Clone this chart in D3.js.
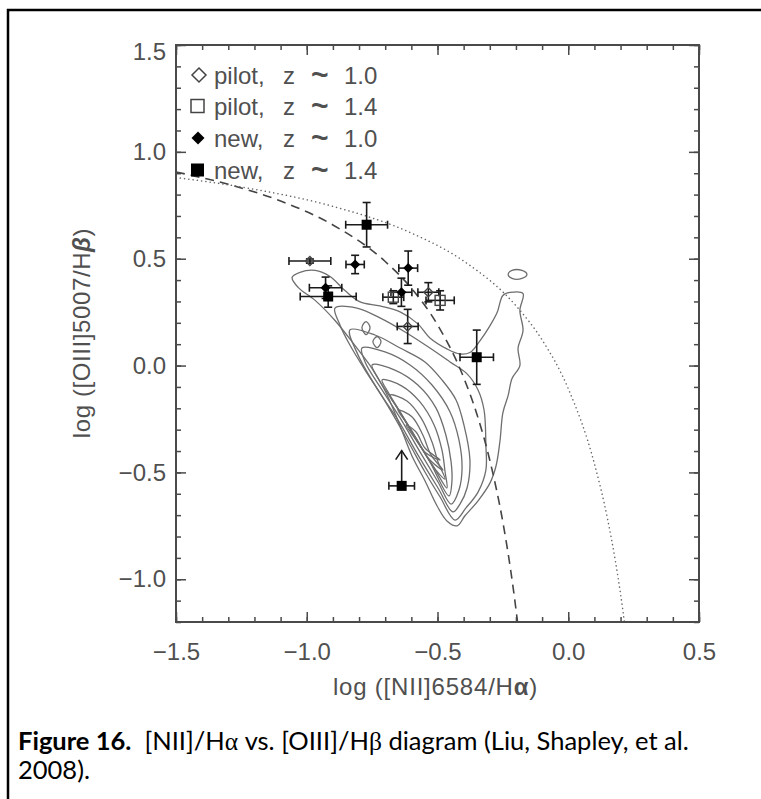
<!DOCTYPE html>
<html>
<head>
<meta charset="utf-8">
<script src="https://cdn.jsdelivr.net/npm/d3@7"></script>
<style>
body { margin: 0; background: #fff; }
svg { display: block; }
</style>
</head>
<body>
<svg id="chart" width="761" height="799"></svg>
<script>
// axis ticks
const xTicks = [-1.5, -1.0, -0.5, 0.0, 0.5];
const yTicks = [-1.0, -0.5, 0.0, 0.5, 1.0, 1.5];

// galaxies: x, y, x error, y error
const pilotZ10 = [
    { x: -0.988, y: 0.489, xe: 0.080, ye: 0.010 },
    { x: -0.535, y: 0.343, xe: 0.040, ye: 0.045 },
    { x: -0.614, y: 0.183, xe: 0.040, ye: 0.080 }
];
const pilotZ14 = [
    { x: -0.669, y: 0.320, xe: 0.040, ye: 0.030 },
    { x: -0.490, y: 0.305, xe: 0.054, ye: 0.045 }
];
const newZ10 = [
    { x: -0.815, y: 0.473, xe: 0.035, ye: 0.043 },
    { x: -0.612, y: 0.456, xe: 0.036, ye: 0.080 },
    { x: -0.638, y: 0.343, xe: 0.040, ye: 0.066 },
    { x: -0.928, y: 0.364, xe: 0.062, ye: 0.050 }
];
const newZ14 = [
    { x: -0.771, y: 0.659, xe: 0.080, ye: 0.104 },
    { x: -0.918, y: 0.323, xe: 0.107, ye: 0.050 },
    { x: -0.350, y: 0.039, xe: 0.064, ye: 0.127 }
];
// lower limit in [OIII]/Hb
const newZ14Limit = [
    { x: -0.637, y: -0.563, xe: 0.049, up: 0.165 }
];

// demarcation curves
const kauffmann03 = [[-1.5, 0.906], [-1.3, 0.848], [-1.1, 0.770], [-0.9, 0.658], [-0.7, 0.487],
    [-0.6, 0.362], [-0.5, 0.191], [-0.4, -0.056], [-0.35, -0.225], [-0.3, -0.443],
    [-0.25, -0.733], [-0.22, -0.959], [-0.2, -1.14], [-0.185, -1.296]];
const kewley01 = [[-1.5, 0.880], [-1.2, 0.825], [-0.9, 0.745], [-0.6, 0.620], [-0.4, 0.489],
    [-0.2, 0.280], [-0.1, 0.120], [0.0, -0.108], [0.1, -0.459], [0.15, -0.716],
    [0.18, -0.913], [0.2, -1.069], [0.21, -1.156], [0.23, -1.35]];

// SDSS density contours, outer to inner
const contour1 = [[-1.056, 0.412], [-1.026, 0.436], [-0.968, 0.445], [-0.911, 0.417], [-0.854, 0.351],
    [-0.796, 0.298], [-0.720, 0.279], [-0.643, 0.251], [-0.575, 0.195], [-0.529, 0.129],
    [-0.464, 0.078], [-0.414, 0.054], [-0.376, 0.061], [-0.337, 0.117], [-0.299, 0.187],
    [-0.272, 0.248], [-0.250, 0.328], [-0.223, 0.342], [-0.173, 0.337], [-0.185, 0.258],
    [-0.173, 0.164], [-0.192, 0.080], [-0.185, 0.000], [-0.215, -0.061], [-0.230, -0.141],
    [-0.250, -0.221], [-0.261, -0.352], [-0.276, -0.469], [-0.299, -0.549], [-0.345, -0.633],
    [-0.395, -0.703], [-0.425, -0.750], [-0.464, -0.727], [-0.502, -0.656], [-0.548, -0.539],
    [-0.598, -0.422], [-0.651, -0.258], [-0.701, -0.117], [-0.750, -0.014], [-0.816, 0.094],
    [-0.892, 0.211], [-0.968, 0.305], [-1.033, 0.366]];
const contour2 = [[-0.892, 0.269], [-0.808, 0.269], [-0.720, 0.223], [-0.624, 0.157], [-0.529, 0.082],
    [-0.452, 0.017], [-0.387, -0.039], [-0.345, -0.114], [-0.322, -0.208], [-0.315, -0.372],
    [-0.315, -0.489], [-0.345, -0.592], [-0.391, -0.666], [-0.433, -0.723], [-0.490, -0.615],
    [-0.548, -0.498], [-0.605, -0.372], [-0.663, -0.245], [-0.720, -0.128], [-0.777, -0.021],
    [-0.835, 0.096], [-0.873, 0.190]];
const contour3 = [[-0.835, 0.167], [-0.739, 0.143], [-0.643, 0.082], [-0.548, 0.017], [-0.483, -0.067],
    [-0.429, -0.161], [-0.399, -0.278], [-0.376, -0.442], [-0.387, -0.573], [-0.414, -0.648],
    [-0.441, -0.685], [-0.498, -0.573], [-0.575, -0.418], [-0.651, -0.255], [-0.728, -0.114],
    [-0.804, 0.050]];
const contour4 = [[-0.789, 0.082], [-0.701, 0.064], [-0.605, 0.003], [-0.521, -0.091], [-0.452, -0.217],
    [-0.418, -0.348], [-0.406, -0.479], [-0.418, -0.582], [-0.448, -0.648], [-0.498, -0.545],
    [-0.567, -0.404], [-0.643, -0.245], [-0.712, -0.114], [-0.777, 0.017]];
const contour5 = [[-0.750, 0.003], [-0.663, -0.021], [-0.575, -0.091], [-0.506, -0.198], [-0.468, -0.325],
    [-0.448, -0.451], [-0.445, -0.545], [-0.456, -0.610], [-0.529, -0.451], [-0.598, -0.311],
    [-0.666, -0.175], [-0.728, -0.058]];
const contour6 = [[-0.712, -0.067], [-0.636, -0.096], [-0.567, -0.170], [-0.513, -0.278], [-0.483, -0.395],
    [-0.471, -0.498], [-0.464, -0.573], [-0.513, -0.479], [-0.575, -0.358], [-0.636, -0.231],
    [-0.689, -0.124]];
const contour7 = [[-0.682, -0.138], [-0.617, -0.166], [-0.563, -0.245], [-0.521, -0.358], [-0.498, -0.451],
    [-0.471, -0.531], [-0.506, -0.489], [-0.552, -0.404], [-0.605, -0.292], [-0.659, -0.189]];
const contour8 = [[-0.651, -0.208], [-0.598, -0.240], [-0.556, -0.325], [-0.525, -0.418], [-0.479, -0.489],
    [-0.529, -0.442], [-0.578, -0.348], [-0.624, -0.259]];
const contour9 = [[-0.620, -0.278], [-0.582, -0.311], [-0.548, -0.386], [-0.490, -0.442], [-0.544, -0.409],
    [-0.590, -0.334]];
const islandA = [[-0.789, 0.178], [-0.773, 0.206], [-0.758, 0.178], [-0.773, 0.145]];
const islandB = [[-0.747, 0.112], [-0.731, 0.136], [-0.716, 0.112], [-0.731, 0.084]];
const islandC = [[-0.230, 0.426], [-0.215, 0.445], [-0.177, 0.445], [-0.158, 0.426], [-0.177, 0.408], [-0.215, 0.408]];

const legendLabels = ["pilot,", "pilot,", "new,", "new,"];
const legendZ = ["1.0", "1.4", "1.0", "1.4"];

const svg = d3.select("#chart");
const pL = 176, pR = 699, pT = 45, pB = 622;
const x = d3.scaleLinear().domain([-1.5, 0.5]).range([pL, pR]);
const y = d3.scaleLinear().domain([-1.2, 1.5]).range([pB, pT]);
const axisColor = "#4a4a4a";
const textColor = "#505050";
const font = "'Liberation Sans', Arial, sans-serif";

// page border
svg.append("rect")
    .attr("x", 8).attr("y", 10)
    .attr("width", 900).attr("height", 900)
    .attr("fill", "none").attr("stroke", "#000").attr("stroke-width", 2.5);

svg.append("clipPath").attr("id", "plotclip")
    .append("rect").attr("x", pL).attr("y", pT)
    .attr("width", pR - pL).attr("height", pB - pT);

const plot = svg.append("g").attr("clip-path", "url(#plotclip)");

// contours
const contourLine = d3.line()
    .x(d => x(d[0])).y(d => y(d[1]))
    .curve(d3.curveCatmullRomClosed.alpha(0.5));
[contour1, contour2, contour3, contour4, contour5, contour6, contour7, contour8, contour9,
    islandA, islandB, islandC]
    .forEach(c => {
        plot.append("path")
            .attr("d", contourLine(c))
            .attr("fill", "none")
            .attr("stroke", "#6e6e6e")
            .attr("stroke-width", 1.3);
    });

// demarcation lines
const demLine = d3.line().x(d => x(d[0])).y(d => y(d[1])).curve(d3.curveMonotoneX);
plot.append("path")
    .attr("d", demLine(kauffmann03))
    .attr("fill", "none").attr("stroke", "#444")
    .attr("stroke-width", 1.6).attr("stroke-dasharray", "9,6");
plot.append("path")
    .attr("d", demLine(kewley01))
    .attr("fill", "none").attr("stroke", "#666")
    .attr("stroke-width", 1.5).attr("stroke-dasharray", "0.1,4.2")
    .attr("stroke-linecap", "round");

// error bars
const errColor = "#1a1a1a";
const capLen = 4;
function errorBars(data) {
    const g = plot.append("g").attr("stroke", errColor).attr("stroke-width", 1.6).attr("fill", "none");
    data.forEach(d => {
        const cx = x(d.x), cy = y(d.y);
        const x0 = x(d.x - d.xe), x1 = x(d.x + d.xe);
        g.append("line").attr("x1", x0).attr("x2", x1).attr("y1", cy).attr("y2", cy);
        g.append("line").attr("x1", x0).attr("x2", x0).attr("y1", cy - capLen).attr("y2", cy + capLen);
        g.append("line").attr("x1", x1).attr("x2", x1).attr("y1", cy - capLen).attr("y2", cy + capLen);
        if (d.ye !== undefined) {
            const y0 = y(d.y - d.ye), y1 = y(d.y + d.ye);
            g.append("line").attr("x1", cx).attr("x2", cx).attr("y1", y0).attr("y2", y1);
            g.append("line").attr("x1", cx - capLen).attr("x2", cx + capLen).attr("y1", y0).attr("y2", y0);
            g.append("line").attr("x1", cx - capLen).attr("x2", cx + capLen).attr("y1", y1).attr("y2", y1);
        }
        if (d.up !== undefined) {
            const ya = y(d.y + d.up);
            g.append("line").attr("x1", cx).attr("x2", cx).attr("y1", cy).attr("y2", ya);
            g.append("path").attr("d", `M${cx - 6},${ya + 9}L${cx},${ya}L${cx + 6},${ya + 9}`);
        }
    });
}
errorBars(pilotZ10);
errorBars(pilotZ14);
errorBars(newZ10);
errorBars(newZ14);
errorBars(newZ14Limit);

// symbols
function diamondPath(cx, cy, r) {
    return `M${cx},${cy - r}L${cx + r},${cy}L${cx},${cy + r}L${cx - r},${cy}Z`;
}
plot.selectAll(".pz10").data(pilotZ10).enter().append("path")
    .attr("d", d => diamondPath(x(d.x), y(d.y), 4.5))
    .attr("fill", "none").attr("stroke", "#444").attr("stroke-width", 1.4);
plot.selectAll(".pz14").data(pilotZ14).enter().append("rect")
    .attr("x", d => x(d.x) - 5).attr("y", d => y(d.y) - 5)
    .attr("width", 10).attr("height", 10)
    .attr("fill", "none").attr("stroke", "#444").attr("stroke-width", 1.4);
plot.selectAll(".nz10").data(newZ10).enter().append("path")
    .attr("d", d => diamondPath(x(d.x), y(d.y), 5))
    .attr("fill", "#000");
plot.selectAll(".nz14").data(newZ14.concat(newZ14Limit)).enter().append("rect")
    .attr("x", d => x(d.x) - 5).attr("y", d => y(d.y) - 5)
    .attr("width", 10).attr("height", 10)
    .attr("fill", "#000");

// axes: major and minor ticks on all four sides
const minorX = d3.range(-1.5, 0.501, 0.1);
const minorY = d3.range(-1.2, 1.501, 0.1);
const fmt = d3.format(".1f");
function styleAxis(g) {
    g.select(".domain").remove();
    g.selectAll(".tick line").attr("stroke", axisColor).attr("stroke-width", 1.5);
    g.selectAll(".tick text").attr("fill", textColor)
        .style("font-family", font).style("font-size", "24px");
}
svg.append("g").attr("transform", `translate(0,${pB})`)
    .call(d3.axisBottom(x).tickValues(xTicks).tickFormat(fmt).tickSizeInner(-10).tickSizeOuter(0).tickPadding(21))
    .call(styleAxis);
svg.append("g").attr("transform", `translate(0,${pB})`)
    .call(d3.axisBottom(x).tickValues(minorX).tickFormat("").tickSizeInner(-5).tickSizeOuter(0))
    .call(styleAxis);
svg.append("g").attr("transform", `translate(0,${pT})`)
    .call(d3.axisTop(x).tickValues(xTicks).tickFormat("").tickSizeInner(-10).tickSizeOuter(0))
    .call(styleAxis);
svg.append("g").attr("transform", `translate(0,${pT})`)
    .call(d3.axisTop(x).tickValues(minorX).tickFormat("").tickSizeInner(-5).tickSizeOuter(0))
    .call(styleAxis);
const yAxisG = svg.append("g").attr("transform", `translate(${pL},0)`)
    .call(d3.axisLeft(y).tickValues(yTicks).tickFormat(fmt).tickSizeInner(-10).tickSizeOuter(0).tickPadding(10))
    .call(styleAxis);
// top label sits a little below its tick
yAxisG.selectAll(".tick text").filter(d => d === 1.5).attr("y", 7);
svg.append("g").attr("transform", `translate(${pL},0)`)
    .call(d3.axisLeft(y).tickValues(minorY).tickFormat("").tickSizeInner(-5).tickSizeOuter(0))
    .call(styleAxis);
svg.append("g").attr("transform", `translate(${pR},0)`)
    .call(d3.axisRight(y).tickValues(yTicks).tickFormat("").tickSizeInner(-10).tickSizeOuter(0))
    .call(styleAxis);
svg.append("g").attr("transform", `translate(${pR},0)`)
    .call(d3.axisRight(y).tickValues(minorY).tickFormat("").tickSizeInner(-5).tickSizeOuter(0))
    .call(styleAxis);

svg.append("rect")
    .attr("x", pL).attr("y", pT)
    .attr("width", pR - pL).attr("height", pB - pT)
    .attr("fill", "none").attr("stroke", axisColor).attr("stroke-width", 2);

// axis titles
const xTitle = svg.append("text")
    .attr("x", (pL + pR) / 2 - 2).attr("y", 695)
    .attr("text-anchor", "middle")
    .attr("fill", textColor)
    .style("font-family", font).style("font-size", "24px").style("letter-spacing", "0.8px")
    .text("log ([NII]6584/H");
xTitle.append("tspan").style("font-weight", "bold").text("α");
xTitle.append("tspan").text(")");

const yTitle = svg.append("text")
    .attr("transform", "translate(90,333) rotate(-90)")
    .attr("text-anchor", "middle")
    .attr("fill", textColor)
    .style("font-family", font).style("font-size", "24px").style("letter-spacing", "0.6px")
    .text("log ([OIII]5007/H");
yTitle.append("tspan").style("font-weight", "bold").style("font-style", "italic").text("β");
yTitle.append("tspan").text(")");

// legend
const legendY = [75, 106, 138, 170];
const leg = svg.append("g");
leg.append("path").attr("d", diamondPath(199, legendY[0], 7))
    .attr("fill", "none").attr("stroke", "#444").attr("stroke-width", 1.5);
leg.append("rect").attr("x", 191).attr("y", legendY[1] - 6.5).attr("width", 13).attr("height", 13)
    .attr("fill", "none").attr("stroke", "#444").attr("stroke-width", 1.5);
leg.append("path").attr("d", diamondPath(198, legendY[2], 6.5)).attr("fill", "#000");
leg.append("rect").attr("x", 191).attr("y", legendY[3] - 6.5).attr("width", 13).attr("height", 13)
    .attr("fill", "#000");
legendLabels.forEach((lab, i) => {
    const t = leg.append("text")
        .attr("y", legendY[i] + 8.5)
        .attr("fill", textColor)
        .style("font-family", font).style("font-size", "24px");
    t.append("tspan").attr("x", 214).text(lab);
    t.append("tspan").attr("x", 283).text("z");
    t.append("tspan").attr("x", 311).attr("dy", 1).style("font-size", "30px").style("font-weight", "bold").text("~");
    t.append("tspan").attr("x", 344).attr("dy", -1).text(legendZ[i]);
});

// caption
const capFont = "Lato, 'Open Sans', sans-serif";
const cap1 = svg.append("text")
    .attr("x", 18).attr("y", 750)
    .attr("fill", "#000")
    .style("font-family", capFont).style("font-size", "25.5px");
cap1.append("tspan").style("font-weight", "bold").text("Figure 16.");
cap1.append("tspan").text("\u00a0 [NII]/H");
cap1.append("tspan").style("font-family", "'Liberation Serif', serif").text("α");
cap1.append("tspan").text(" vs. [OIII]/H");
cap1.append("tspan").style("font-family", "'Liberation Serif', serif").text("β");
cap1.append("tspan").text(" diagram (Liu, Shapley, et al.");
svg.append("text")
    .attr("x", 18).attr("y", 779)
    .attr("fill", "#000")
    .style("font-family", capFont).style("font-size", "25.5px")
    .text("2008).");
</script>
</body>
</html>
